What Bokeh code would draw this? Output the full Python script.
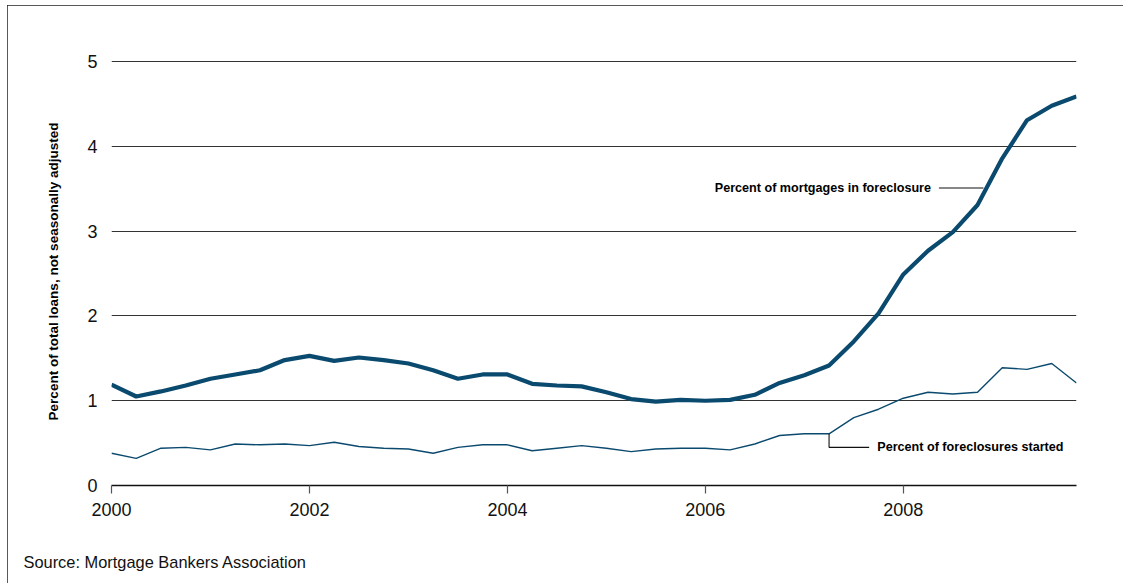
from bokeh.plotting import figure
from bokeh.models import FixedTicker, Label, Range1d, Title
from bokeh.embed import file_html
from bokeh.resources import INLINE

# Quarterly data, 2000Q1 .. 2009Q4
quarters = [f"{y}Q{q}" for y in range(2000, 2010) for q in (1, 2, 3, 4)]
in_foreclosure = [1.19, 1.05, 1.11, 1.18, 1.26, 1.31, 1.36, 1.48, 1.53, 1.47,
                  1.51, 1.48, 1.44, 1.36, 1.26, 1.31, 1.31, 1.20, 1.18, 1.17,
                  1.10, 1.02, 0.99, 1.01, 1.00, 1.01, 1.07, 1.21, 1.30, 1.415,
                  1.70, 2.03, 2.49, 2.77, 2.99, 3.31, 3.86, 4.31, 4.48, 4.59]
started = [0.38, 0.32, 0.44, 0.45, 0.42, 0.49, 0.48, 0.49, 0.47, 0.51,
           0.46, 0.44, 0.43, 0.38, 0.45, 0.48, 0.48, 0.41, 0.44, 0.47,
           0.44, 0.40, 0.43, 0.44, 0.44, 0.42, 0.49, 0.59, 0.61, 0.61,
           0.80, 0.90, 1.03, 1.10, 1.08, 1.10, 1.39, 1.37, 1.44, 1.21]
x_ticks = [2000, 2002, 2004, 2006, 2008]
y_ticks = [0, 1, 2, 3, 4, 5]
y_title = "Percent of total loans, not seasonally adjusted"
label_in = "Percent of mortgages in foreclosure"
label_started = "Percent of foreclosures started"
source = "Source: Mortgage Bankers Association"

xs = [int(q[:4]) + (int(q[-1]) - 1) * 0.25 for q in quarters]

BLUE = "#0b4a6f"
FONT = "Liberation Sans"

p = figure(width=1116, height=578, output_backend="svg", toolbar_location=None,
           x_range=Range1d(2000, 2009.75), y_range=Range1d(0, 5.05),
           min_border_left=104, min_border_right=47, min_border_top=52,
           min_border_bottom=98)
p.outline_line_color = None
p.background_fill_color = "white"
p.border_fill_color = "white"
p.styles = {"outline": "1.5px solid #222", "outline-offset": "-1px",
            "margin-left": "7px", "margin-top": "5px"}

# axes
p.xaxis.ticker = FixedTicker(ticks=x_ticks)
p.xaxis.axis_line_color = "#111"
p.xaxis.axis_line_width = 1.5
p.xaxis.major_tick_out = 8
p.xaxis.major_tick_in = 0
p.xaxis.major_tick_line_color = "#555"
p.xaxis.major_tick_line_width = 1.2
p.xaxis.minor_tick_line_color = None
p.xaxis.major_label_text_font = FONT
p.xaxis.major_label_text_font_size = "18px"
p.xaxis.major_label_text_color = "#111"
p.xaxis.major_label_standoff = 9

p.yaxis.ticker = FixedTicker(ticks=y_ticks)
p.yaxis.axis_line_color = None
p.yaxis.major_tick_line_color = None
p.yaxis.minor_tick_line_color = None
p.yaxis.major_label_text_font = FONT
p.yaxis.major_label_text_font_size = "18px"
p.yaxis.major_label_text_color = "#111"
p.yaxis.major_label_standoff = 8
p.yaxis.axis_label = y_title
p.yaxis.axis_label_text_font = FONT
p.yaxis.axis_label_text_font_style = "bold"
p.yaxis.axis_label_text_font_size = "13.5px"
p.yaxis.axis_label_text_color = "#000"
p.yaxis.axis_label_standoff = 23

p.xgrid.grid_line_color = None
p.ygrid.ticker = FixedTicker(ticks=y_ticks[1:])
p.ygrid.grid_line_color = "#333"
p.ygrid.grid_line_width = 1.2

# series
p.line(xs, started, line_color=BLUE, line_width=1.4)
p.line(xs, in_foreclosure, line_color=BLUE, line_width=4.2, line_join="round")

# annotation: percent in foreclosure
p.line([2008.36, 2008.81], [3.51, 3.51], line_color="#111", line_width=1.1)
p.add_layout(Label(x=2008.28, y=3.51, text=label_in, text_align="right",
                   text_baseline="middle", text_font=FONT,
                   text_font_style="bold", text_font_size="12.6px",
                   text_color="#000"))

# annotation: foreclosures started
i29 = quarters.index("2007Q2")
p.line([xs[i29], xs[i29], 2007.655], [started[i29], 0.45, 0.45],
       line_color="#111", line_width=1.1)
p.add_layout(Label(x=2007.737, y=0.45, text=label_started, text_align="left",
                   text_baseline="middle", text_font=FONT,
                   text_font_style="bold", text_font_size="12.6px",
                   text_color="#000"))

# spacer between axis and source note
p.add_layout(Title(text=" ", standoff=29, text_font_size="1px"), "below")
# source note
p.add_layout(Title(text=source, align="left", offset=-88, standoff=0,
                   vertical_align="bottom",
                   text_font=FONT, text_font_style="normal",
                   text_font_size="16.4px", text_color="#111"), "below")

open("out.html", "w").write(file_html(p, INLINE))
